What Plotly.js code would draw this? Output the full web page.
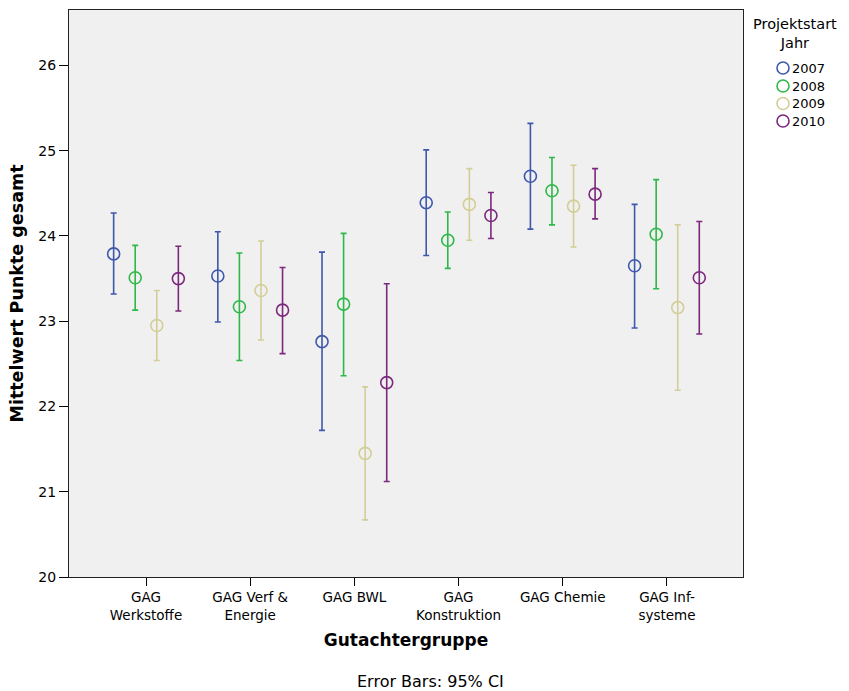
<!DOCTYPE html>
<html>
<head>
<meta charset="utf-8">
<script src="https://cdn.plot.ly/plotly-3.0.1.min.js"></script>
<style>html,body{margin:0;padding:0;background:#fff}#chart{width:849px;height:691px}</style>
</head>
<body>
<div id="chart"></div>
<script>
// Categories (Gutachtergruppe)
const categories = ["GAG<br>Werkstoffe", "GAG Verf &<br>Energie", "GAG BWL", "GAG<br>Konstruktion", "GAG Chemie", "GAG Inf-<br>systeme"];
const years = ["2007", "2008", "2009", "2010"];
const yTicks = [20, 21, 22, 23, 24, 25, 26];

// Means per year across categories
const mean2007 = [23.79, 23.53, 22.76, 24.39, 24.70, 23.65];
const mean2008 = [23.51, 23.17, 23.20, 23.95, 24.53, 24.02];
const mean2009 = [22.95, 23.36, 21.45, 24.37, 24.35, 23.16];
const mean2010 = [23.50, 23.13, 22.28, 24.24, 24.49, 23.51];

// 95% CI upper bounds
const upper2007 = [24.27, 24.05, 23.81, 25.01, 25.32, 24.37];
const upper2008 = [23.89, 23.80, 24.03, 24.28, 24.92, 24.66];
const upper2009 = [23.36, 23.94, 22.23, 24.79, 24.83, 24.13];
const upper2010 = [23.88, 23.63, 23.44, 24.51, 24.79, 24.17];

// 95% CI lower bounds
const lower2007 = [23.32, 22.99, 21.72, 23.77, 24.08, 22.92];
const lower2008 = [23.13, 22.54, 22.36, 23.62, 24.13, 23.38];
const lower2009 = [22.54, 22.78, 20.67, 23.95, 23.87, 22.19];
const lower2010 = [23.12, 22.62, 21.12, 23.97, 24.20, 22.85];

const colors = ["#3E58AC", "#2EB848", "#D3CE97", "#7C287D"];

const means = [mean2007, mean2008, mean2009, mean2010];
const uppers = [upper2007, upper2008, upper2009, upper2010];
const lowers = [lower2007, lower2008, lower2009, lower2010];

const FONT = "DejaVu Sans, Verdana, sans-serif";
const step = 0.207;
const traces = years.map((yr, j) => {
  const m = means[j];
  return {
    type: "scatter",
    mode: "markers",
    name: yr,
    showlegend: false,
    x: categories.map((c, i) => i + (j - 1.5) * step),
    y: m,
    marker: {symbol: "circle-open", size: 12, color: colors[j], line: {width: 1.6, color: colors[j]}},
    error_y: {
      type: "data", symmetric: false,
      array: uppers[j].map((u, i) => u - m[i]),
      arrayminus: lowers[j].map((l, i) => m[i] - l),
      color: colors[j], thickness: 1.6, width: 3
    },
    hoverinfo: "x+y"
  };
});

// Custom legend (placed in the right margin)
const plotL = 69, plotW = 674, plotT = 10, plotH = 567;
const px = v => (v - plotL) / plotW;
const py = v => (plotT + plotH - v) / plotH;
const legendRowY = [68, 86, 103.5, 121];

const shapes = years.map((yr, j) => ({
  type: "circle", xref: "paper", yref: "paper",
  xsizemode: "pixel", ysizemode: "pixel",
  xanchor: px(783), yanchor: py(legendRowY[j]),
  x0: -6, x1: 6, y0: -6, y1: 6,
  line: {color: colors[j], width: 1.6}, fillcolor: "rgba(0,0,0,0)"
}));

const annotations = years.map((yr, j) => ({
  text: yr, xref: "paper", yref: "paper",
  x: px(790), y: py(legendRowY[j]), xanchor: "left", yanchor: "middle",
  showarrow: false, font: {family: FONT, size: 13, color: "#000"}
}));
annotations.push({
  text: "Projektstart<br>Jahr", xref: "paper", yref: "paper",
  x: px(795), y: py(14), xanchor: "center", yanchor: "top", align: "center",
  showarrow: false, font: {family: FONT, size: 14.5, color: "#000"}
});
annotations.push({
  text: "Error Bars: 95% CI", xref: "paper", yref: "paper",
  x: px(430.5), y: py(681), xanchor: "center", yanchor: "middle",
  showarrow: false, font: {family: FONT, size: 16, color: "#000"}
});

const layout = {
  width: 849, height: 691,
  margin: {l: 69, r: 106, t: 10, b: 114},
  paper_bgcolor: "#ffffff",
  plot_bgcolor: "#f0f0f0",
  font: {family: FONT, size: 14, color: "#000"},
  showlegend: false,
  xaxis: {
    range: [-0.739, 5.73],
    tickmode: "array",
    tickvals: categories.map((c, i) => i),
    ticktext: categories,
    ticks: "outside", ticklen: 8, tickcolor: "#000", tickwidth: 1,
    showgrid: false, zeroline: false,
    showline: true, linecolor: "#222", linewidth: 1, mirror: true,
    tickfont: {size: 13.5},
    title: {text: "Gutachtergruppe", font: {size: 17, weight: "bold"}, standoff: 12}
  },
  yaxis: {
    range: [20, 26.65],
    tickmode: "array",
    tickvals: yTicks,
    ticks: "outside", ticklen: 9, tickcolor: "#000", tickwidth: 1,
    showgrid: false, zeroline: false,
    showline: true, linecolor: "#222", linewidth: 1, mirror: true,
    tickfont: {size: 14},
    title: {text: "Mittelwert Punkte gesamt", font: {size: 17.5, weight: "bold"}, standoff: 10}
  },
  shapes: shapes,
  annotations: annotations
};

Plotly.newPlot("chart", traces, layout, {displayModeBar: false, staticPlot: true});
</script>
</body>
</html>
